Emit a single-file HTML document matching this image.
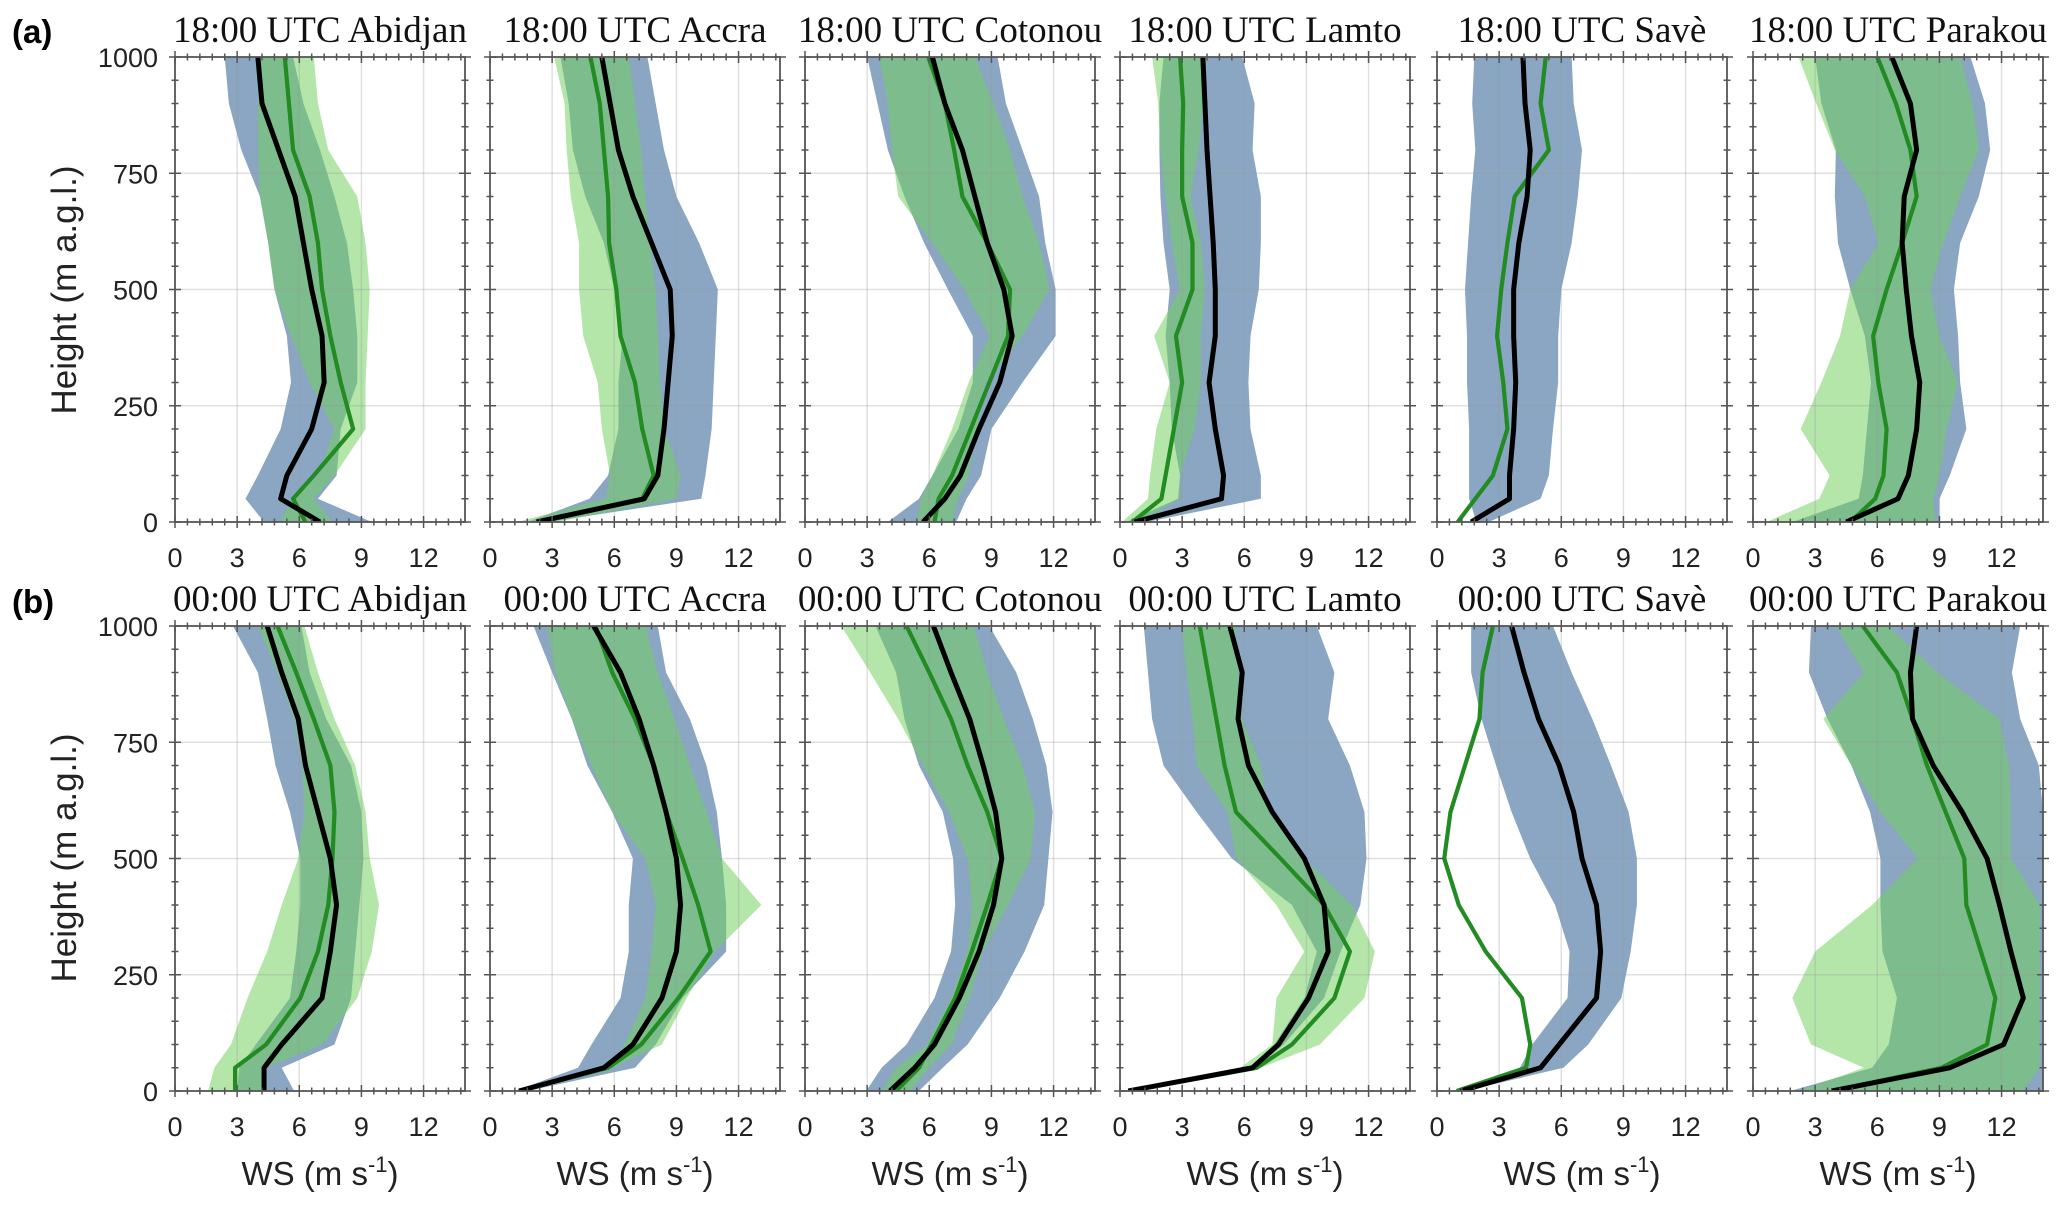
<!DOCTYPE html>
<html><head><meta charset="utf-8"><style>
html,body{margin:0;padding:0;background:#fff;}
svg{display:block;}
</style></head><body>
<svg id="fig" xmlns="http://www.w3.org/2000/svg" width="2067" height="1212" viewBox="0 0 2067 1212">
<rect width="2067" height="1212" fill="#fff"/>
<text x="12" y="43" font-family="Liberation Sans, sans-serif" font-weight="bold" font-size="33">(a)</text>
<text x="12" y="613" font-family="Liberation Sans, sans-serif" font-weight="bold" font-size="33">(b)</text>
<text transform="translate(76,290) rotate(-90)" text-anchor="middle" font-family="Liberation Sans, sans-serif" font-size="35" fill="#222">Height (m a.g.l.)</text>
<text transform="translate(76,858) rotate(-90)" text-anchor="middle" font-family="Liberation Sans, sans-serif" font-size="35" fill="#222">Height (m a.g.l.)</text>
<g id="plots"></g>
</svg>
<script>
const heights=[0,50,100,200,300,400,500,600,700,800,900,1000];
const xTicks=[0,3,6,9,12];
const yTicks=[0,250,500,750,1000];
const xMax=14, yMax=1000;
const stations=["Abidjan","Accra","Cotonou","Lamto","Savè","Parakou"];
const times=["18:00","00:00"];

// Row (a) 18:00 UTC
const a1Mean=[7.0,5.1,5.4,6.6,7.2,7.1,6.6,6.2,5.8,5.0,4.2,4.0];
const a1Model=[6.3,5.7,6.7,8.6,8.0,7.5,7.1,6.9,6.5,5.7,5.5,5.3];
const a1Low=[4.3,3.4,4.0,5.1,5.6,5.4,4.8,4.5,4.1,3.2,2.6,2.4];
const a1High=[9.5,6.9,7.8,8.0,8.8,8.8,8.6,8.3,7.7,7.0,6.2,5.7];
const a1ModelLow=[5.1,5.6,6.9,7.7,6.5,5.6,4.8,4.5,4.1,4.0,4.0,4.1];
const a1ModelHigh=[7.6,6.7,7.7,9.2,9.2,9.3,9.4,9.2,8.8,7.4,6.9,6.7];

const a2Mean=[2.25,7.45,8.1,8.4,8.6,8.8,8.7,7.8,6.9,6.2,5.8,5.4];
const a2Model=[2.3,7.35,7.9,7.35,7.0,6.3,6.1,5.75,5.7,5.5,5.3,4.85];
const a2Low=[1.8,4.8,5.7,6.2,6.2,6.4,6.0,5.5,4.6,4.0,3.8,3.4];
const a2High=[2.8,10.2,10.4,10.7,10.8,10.9,11.0,10.1,9.0,8.4,8.0,7.6];
const a2ModelLow=[1.3,5.6,5.8,5.4,5.2,4.5,4.3,4.3,3.9,3.7,3.6,3.1];
const a2ModelHigh=[3.2,9.0,9.2,8.4,8.2,8.1,8.0,7.7,7.5,7.3,7.0,6.7];

const a3Mean=[5.7,6.75,7.5,8.4,9.4,10.0,9.6,8.8,8.2,7.6,6.75,6.15];
const a3Model=[6.25,6.45,7.1,8.0,8.9,9.8,9.9,8.8,7.6,7.2,6.75,5.95];
const a3Low=[4.0,5.5,6.15,7.4,8.1,8.1,6.9,5.75,4.8,4.0,3.5,3.0];
const a3High=[7.3,7.8,8.5,9.0,10.5,12.1,12.1,11.6,11.3,10.5,9.7,9.3];
const a3ModelLow=[5.4,5.6,6.15,7.1,7.9,8.9,7.7,6.15,4.5,4.2,4.0,3.6];
const a3ModelHigh=[7.1,7.4,7.9,8.3,8.7,10.5,11.8,11.3,10.5,9.9,9.1,8.2];

const a4Mean=[0.7,4.9,5.0,4.6,4.3,4.6,4.6,4.5,4.35,4.2,4.1,4.0];
const a4Model=[0.6,2.0,2.2,2.6,3.0,2.7,3.5,3.5,3.0,3.0,3.05,2.9];
const a4Low=[0.3,2.8,2.9,2.5,2.4,2.2,2.4,2.1,1.95,1.9,1.9,2.1];
const a4High=[1.3,6.8,6.8,6.3,6.2,6.3,6.7,6.8,6.8,6.4,6.5,5.9];
const a4ModelLow=[0.1,1.35,1.45,1.75,2.4,1.65,2.9,2.5,2.2,1.95,1.85,1.55];
const a4ModelHigh=[0.9,2.9,2.9,3.6,3.9,3.9,4.1,3.9,3.4,3.8,4.0,4.2];

const a5Mean=[1.65,3.5,3.5,3.7,3.8,3.7,3.7,3.95,4.35,4.5,4.25,4.15];
const a5Model=[1.0,1.85,2.7,3.4,3.2,2.9,3.1,3.4,3.75,5.4,5.0,5.25];
const a5Low=[1.9,1.55,1.55,1.55,1.45,1.45,1.35,1.5,1.65,1.85,1.7,1.8];
const a5High=[2.5,5.0,5.4,5.6,5.85,5.85,6.0,6.5,6.8,7.0,6.6,6.5];

const a6Mean=[4.5,7.0,7.5,7.9,8.05,7.65,7.4,7.2,7.3,7.9,7.6,6.7];
const a6Model=[4.7,5.9,6.3,6.45,6.05,5.8,6.45,7.2,7.9,7.6,6.9,6.0];
const a6Low=[1.9,5.1,5.3,5.5,5.7,5.4,4.7,4.1,3.95,4.0,3.3,3.0];
const a6High=[9.0,9.0,9.5,10.3,10.0,9.9,9.7,10.0,10.9,11.45,11.2,10.5];
const a6ModelLow=[0.65,3.2,3.7,2.3,3.3,4.2,4.7,6.05,5.4,3.95,3.05,2.2];
const a6ModelHigh=[8.8,8.7,9.0,9.35,9.9,9.0,8.55,9.2,10.0,10.9,10.6,10.0];

// Row (b) 00:00 UTC
const b1Mean=[4.3,4.3,5.15,7.1,7.5,7.8,7.5,6.9,6.3,5.95,5.15,4.45];
const b1Model=[2.9,2.9,4.4,6.05,6.9,7.4,7.6,7.7,7.5,6.7,5.85,4.95];
const b1Low=[3.0,3.1,3.9,5.55,5.85,6.05,6.05,5.55,4.85,4.45,4.0,2.8];
const b1High=[5.75,5.15,7.7,8.5,8.7,8.9,9.1,9.0,8.5,7.3,6.5,6.1];
const b1ModelLow=[1.6,1.9,2.7,3.5,4.45,5.15,5.95,6.25,6.15,5.75,4.95,4.0];
const b1ModelHigh=[4.3,4.4,7.1,8.8,9.5,9.85,9.4,9.2,8.7,7.7,6.9,6.25];

const b2Mean=[1.4,5.5,6.9,8.3,9.0,9.2,9.0,8.5,7.9,7.2,6.3,5.0];
const b2Model=[1.4,5.7,7.3,9.1,10.65,10.05,9.3,8.5,7.9,7.0,5.9,5.1];
const b2Low=[1.2,4.25,4.9,6.3,6.7,6.7,6.9,5.9,4.7,3.95,3.0,2.1];
const b2High=[1.8,7.0,8.0,9.3,11.4,11.4,11.2,10.95,10.45,9.65,8.5,8.1];
const b2ModelLow=[1.4,5.7,6.5,7.5,7.8,8.0,7.5,5.9,4.9,3.95,3.15,2.75];
const b2ModelHigh=[1.6,5.9,8.3,9.5,10.85,13.1,11.2,10.45,9.65,8.9,8.1,7.5];

const b3Mean=[4.1,5.3,6.25,7.45,8.4,9.1,9.5,9.2,8.6,7.95,7.05,6.2];
const b3Model=[4.4,5.5,6.1,7.25,8.05,8.8,9.5,8.8,7.85,7.05,6.0,4.9];
const b3Low=[2.95,3.7,4.9,6.25,7.05,7.25,7.15,6.65,5.5,4.8,4.4,3.4];
const b3High=[5.5,6.65,7.85,9.4,10.6,11.55,11.75,11.95,11.65,11.0,10.2,8.9];
const b3ModelLow=[3.7,4.4,5.9,7.05,7.85,8.05,7.85,6.95,5.7,4.5,3.15,1.75];
const b3ModelHigh=[5.1,6.0,7.05,7.95,8.6,9.8,10.9,11.1,10.5,9.6,8.8,8.15];

const b4Mean=[0.4,6.4,7.65,9.1,10.05,9.85,8.9,7.35,6.2,5.7,5.9,5.3];
const b4Model=[0.4,6.6,8.3,10.35,11.1,9.85,7.75,5.6,5.05,4.65,4.25,3.85];
const b4Low=[0.4,6.2,7.45,8.9,9.5,8.3,5.4,3.7,2.1,1.55,1.35,1.15];
const b4High=[0.6,6.6,7.9,9.85,10.65,11.6,11.9,11.8,11.1,10.05,10.35,9.5];
const b4ModelLow=[0.4,5.8,7.35,7.55,8.9,7.55,5.6,5.2,3.7,3.5,3.2,3.0];
const b4ModelHigh=[0.8,6.8,9.65,11.8,12.3,11.2,8.9,7.15,6.8,5.9,5.7,5.6];

const b5Mean=[1.15,5.0,5.9,7.7,7.9,7.7,7.0,6.6,5.9,4.9,4.2,3.6];
const b5Model=[0.95,4.3,4.5,4.1,2.35,1.05,0.35,0.65,1.35,2.05,2.2,2.7];
const b5Low=[1.15,4.0,4.6,6.3,6.4,5.7,4.5,3.6,2.85,2.15,1.65,1.65];
const b5High=[1.35,6.1,7.3,8.9,9.35,9.65,9.65,9.25,8.4,7.5,6.5,5.6];

const b6Mean=[3.8,9.5,12.1,13.05,12.45,11.9,11.3,10.1,8.7,7.7,7.6,7.9];
const b6Model=[3.8,9.1,11.3,11.7,11.0,10.3,10.2,9.3,8.4,7.7,6.95,5.3];
const b6Low=[1.8,5.75,6.55,6.95,6.25,6.15,6.15,5.65,4.75,3.6,2.7,2.8];
const b6High=[14,14,14,14,14,14,14,14,13.8,12.9,12.5,12.9];
const b6ModelLow=[2.2,5.35,2.8,1.9,3.0,5.75,7.95,6.15,4.75,3.4,5.35,4.0];
const b6ModelHigh=[13.0,13.85,13.85,13.85,13.85,13.85,12.45,12.45,12.35,11.9,8.9,6.55];

const rowA=[
 [a1Mean,a1Model,a1Low,a1High,a1ModelLow,a1ModelHigh],
 [a2Mean,a2Model,a2Low,a2High,a2ModelLow,a2ModelHigh],
 [a3Mean,a3Model,a3Low,a3High,a3ModelLow,a3ModelHigh],
 [a4Mean,a4Model,a4Low,a4High,a4ModelLow,a4ModelHigh],
 [a5Mean,a5Model,a5Low,a5High,null,null],
 [a6Mean,a6Model,a6Low,a6High,a6ModelLow,a6ModelHigh]];
const rowB=[
 [b1Mean,b1Model,b1Low,b1High,b1ModelLow,b1ModelHigh],
 [b2Mean,b2Model,b2Low,b2High,b2ModelLow,b2ModelHigh],
 [b3Mean,b3Model,b3Low,b3High,b3ModelLow,b3ModelHigh],
 [b4Mean,b4Model,b4Low,b4High,b4ModelLow,b4ModelHigh],
 [b5Mean,b5Model,b5Low,b5High,null,null],
 [b6Mean,b6Model,b6Low,b6High,b6ModelLow,b6ModelHigh]];

const NS="http://www.w3.org/2000/svg";
const root=document.getElementById('plots');
const lefts=[175,490,805,1120,1437,1753];
const tops=[57,626];
const PW=290, PH=465;
function mk(tag,attrs,parent){const e=document.createElementNS(NS,tag);for(const k in attrs)e.setAttribute(k,attrs[k]);(parent||root).appendChild(e);return e;}

function drawPanel(r,c,d){
  const L=lefts[c], T=tops[r], B=T+PH;
  const xs=v=>L+v/xMax*PW;
  const ys=h=>B-h/yMax*PH;
  const g=mk('g',{});
  
  
  const cid='clip'+r+c;
  const cp=mk('clipPath',{id:cid},g); mk('rect',{x:L,y:T,width:PW,height:PH},cp);
  const band=(lo,hi,fill,op,name)=>{
    let pts=heights.map((h,i)=>xs(lo[i])+','+ys(h));
    for(let i=heights.length-1;i>=0;i--)pts.push(xs(hi[i])+','+ys(heights[i]));
    const p=mk('polygon',{points:pts.join(' '),fill:fill,'fill-opacity':op,'clip-path':'url(#'+cid+')'},g);
    
    
  };
  band(d[2],d[3],'rgb(138,166,194)',1,'observed-range-band');
  if(d[4]) band(d[4],d[5],'rgb(113,208,94)',0.53,'model-range-band');
  xTicks.forEach(v=>{if(v>0){const l=mk('line',{x1:xs(v),x2:xs(v),y1:T,y2:B,stroke:'#999','stroke-opacity':0.3,'stroke-width':1.5},g);
    
    }});
  yTicks.forEach(h=>{if(h>0&&h<1000){const l=mk('line',{x1:L,x2:L+PW,y1:ys(h),y2:ys(h),stroke:'#999','stroke-opacity':0.3,'stroke-width':1.5},g);
    
    }});
  const line=(vals,col,w,name)=>{
    const p=mk('polyline',{points:heights.map((h,i)=>xs(vals[i])+','+ys(h)).join(' '),fill:'none',stroke:col,'stroke-width':w,'stroke-linejoin':'round','clip-path':'url(#'+cid+')'},g);
    
    
  };
  line(d[1],'rgb(34,139,34)',4.2,'model-mean-line');
  line(d[0],'#000',5,'observed-mean-line');
  const fr=mk('rect',{x:L,y:T,width:PW,height:PH,fill:'none',stroke:'#555','stroke-width':1.8},g);
  
  
  let tk='';
  for(let v=0;v<=xMax+1e-6;v+=0.6){const maj=Math.abs(v/3-Math.round(v/3))<1e-6;const len=maj?6:3.5;const X=xs(v);
    tk+=`M${X},${B-len}L${X},${B+len}M${X},${T-len}L${X},${T+len}`;}
  for(let h=0;h<=1000;h+=50){const maj=h%250===0;const len=maj?6:3.5;const Y=ys(h);
    tk+=`M${L-len},${Y}L${L+len},${Y}M${L+PW-len},${Y}L${L+PW+len},${Y}`;}
  const tp=mk('path',{d:tk,stroke:'#555','stroke-width':1.5,fill:'none'},g);
  
  
  xTicks.forEach(v=>{const t=mk('text',{x:xs(v),y:B+45,'text-anchor':'middle','font-family':'Liberation Sans, sans-serif','font-size':27,fill:'#222'},g);t.textContent=v;
    
    });
  if(c===0) yTicks.forEach(h=>{const t=mk('text',{x:L-17,y:ys(h)+10,'text-anchor':'end','font-family':'Liberation Sans, sans-serif','font-size':27,fill:'#222'},g);t.textContent=h;
    
    });
  const tt=mk('text',{x:L+PW/2,y:T-15,'text-anchor':'middle','font-family':'Liberation Serif, serif','font-size':37,fill:'#111'},g);
  tt.textContent=times[r]+' UTC '+stations[c];
  
  
  if(r===1){
    const xt=mk('text',{x:L+PW/2,y:1185,'text-anchor':'middle','font-family':'Liberation Sans, sans-serif','font-size':33,fill:'#222'},g);
    
    
    xt.appendChild(document.createTextNode('WS (m s'));
    const sp=document.createElementNS(NS,'tspan');sp.setAttribute('dy','-13');sp.setAttribute('font-size','22');sp.textContent='-1';xt.appendChild(sp);
    const sp2=document.createElementNS(NS,'tspan');sp2.setAttribute('dy','13');sp2.textContent=')';xt.appendChild(sp2);
  }
}
rowA.forEach((d,c)=>drawPanel(0,c,d));
rowB.forEach((d,c)=>drawPanel(1,c,d));
</script>
</body></html>
